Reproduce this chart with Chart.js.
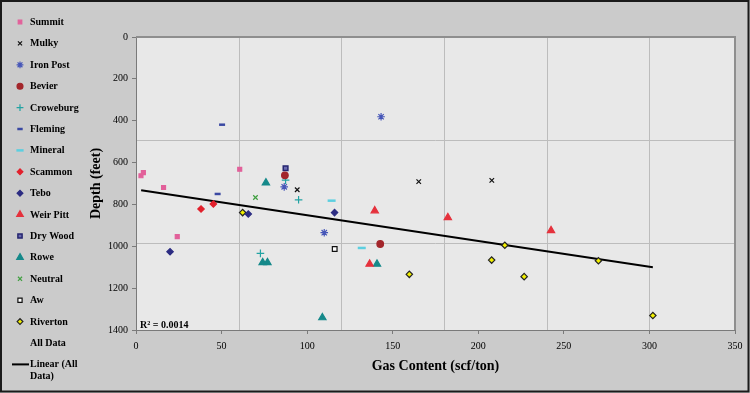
<!DOCTYPE html>
<html>
<head>
<meta charset="utf-8">
<script src="https://cdn.jsdelivr.net/npm/chart.js@4/dist/chart.umd.min.js"></script>
<style>
  html, body { margin: 0; padding: 0; background: #cbcbcb; }
  #wrap { width: 750px; height: 393px; }
</style>
</head>
<body>
<div id="wrap"><canvas id="gasChart" width="750" height="393"></canvas></div>
<script>
// ── Data (x = gas content scf/ton, y = depth feet) ──
const summitX    = [2.9, 4.3, 16.1, 60.6, 24.1];
const summitY    = [663, 648, 719, 632, 954];
const mulkyX     = [94.2, 165.2, 207.9];
const mulkyY     = [730, 691, 685];
const ironPostX  = [143.2, 86.6, 110];
const ironPostY  = [381, 716, 935];
const bevierX    = [87, 142.7];
const bevierY    = [661, 989];
const crowebX    = [87.4, 95, 72.7];
const crowebY    = [684, 778, 1034];
const flemingX   = [50.3, 47.7];
const flemingY   = [419, 750];
const mineralX   = [114.3, 131.9];
const mineralY   = [782, 1008];
const scammonX   = [38, 45.2];
const scammonY   = [822, 798];
const teboX      = [65.6, 116, 19.9];
const teboY      = [846, 839, 1026];
const weirPittX  = [139.5, 182.2, 242.5, 136.5];
const weirPittY  = [830, 863, 925, 1085];
const dryWoodX   = [87.4];
const dryWoodY   = [627];
const roweX      = [75.9, 74, 76.8, 140.8, 108.9];
const roweY      = [697, 1078, 1078, 1085, 1341];
const neutralX   = [69.8];
const neutralY   = [767];
const awX        = [116.1];
const awY        = [1013];
const rivertonX  = [62.3, 159.7, 215.5, 207.8, 226.8, 270.2, 302];
const rivertonY  = [839, 1134, 995, 1066, 1145, 1069, 1331];

// trendline end points as drawn
const trendX = [3, 302];
const trendY = [732, 1100];

const xTicks = { min: 0, max: 350, step: 50 };
const yTicks = { min: 0, max: 1400, step: 200 };
const rSquared = 'R² = 0.0014';

// background texture grid (not on tick values)
const gridX = [60, 120, 180, 240, 300];
const gridY = [492, 984];

const pts = (xs, ys) => xs.map((x, i) => ({ x, y: ys[i] }));

const series = [
    { label: 'Summit',    data: pts(summitX, summitY),     style: 'rect',     r: 2.8, fill: '#e2609a', stroke: '#e2609a' },
    { label: 'Mulky',     data: pts(mulkyX, mulkyY),       style: 'crossRot', r: 3.2, fill: '#111',    stroke: '#111' },
    { label: 'Iron Post', data: pts(ironPostX, ironPostY), style: 'star',     r: 3.8, fill: '#4656b8', stroke: '#4656b8' },
    { label: 'Bevier',    data: pts(bevierX, bevierY),     style: 'circle',   r: 3.3, fill: '#a3262b', stroke: '#a3262b' },
    { label: 'Croweburg', data: pts(crowebX, crowebY),     style: 'cross',    r: 3.8, fill: '#22a3a3', stroke: '#22a3a3' },
    { label: 'Fleming',   data: pts(flemingX, flemingY),   style: 'line',     r: 3,   fill: '#3a48a2', stroke: '#3a48a2', bw: 2.5 },
    { label: 'Mineral',   data: pts(mineralX, mineralY),   style: 'line',     r: 4,   fill: '#5ccfe0', stroke: '#5ccfe0', bw: 2.5 },
    { label: 'Scammon',   data: pts(scammonX, scammonY),   style: 'rectRot',  r: 3.2, fill: '#e2202c', stroke: '#e2202c' },
    { label: 'Tebo',      data: pts(teboX, teboY),         style: 'rectRot',  r: 3.2, fill: '#2c2c82', stroke: '#2c2c82' },
    { label: 'Weir Pitt', data: pts(weirPittX, weirPittY), style: 'triangle', r: 4.2, fill: '#e5313c', stroke: '#e5313c' },
    { label: 'Dry Wood',  data: pts(dryWoodX, dryWoodY),   style: 'rect',     r: 3.3, fill: '#6a6ab0', stroke: '#262670', bw: 1.5 },
    { label: 'Rowe',      data: pts(roweX, roweY),         style: 'triangle', r: 4.2, fill: '#15898a', stroke: '#15898a' },
    { label: 'Neutral',   data: pts(neutralX, neutralY),   style: 'crossRot', r: 3.2, fill: '#3f9f3f', stroke: '#3f9f3f' },
    { label: 'Aw',        data: pts(awX, awY),             style: 'rect',     r: 3.3, fill: '#ffffff', stroke: '#111' },
    { label: 'Riverton',  data: pts(rivertonX, rivertonY), style: 'rectRot',  r: 3.2, fill: '#f2f000', stroke: '#222' }
];

const datasets = series.map(s => ({
    label: s.label,
    data: s.data,
    pointStyle: s.style,
    pointRadius: s.r,
    pointBackgroundColor: s.fill,
    pointBorderColor: s.stroke,
    pointBorderWidth: s.bw || 1.2,
    showLine: false
}));

// invisible "All Data" series (Excel keeps it for the trendline)
datasets.push({
    label: 'All Data',
    data: series.flatMap(s => s.data),
    pointRadius: 0,
    showLine: false
});

datasets.push({
    label: 'Linear (All Data)',
    data: pts(trendX, trendY),
    showLine: true,
    borderColor: '#000',
    borderWidth: 2,
    pointRadius: 0,
    fill: false
});

const serif = "'Liberation Serif', 'Times New Roman', serif";

// ── Plot background, grid, frame, R² and legend ─────────────────────
const decorPlugin = {
    id: 'decor',
    beforeDraw(chart) {
        const { ctx, chartArea: a, scales } = chart;
        ctx.save();
        ctx.fillStyle = '#cbcbcb';
        ctx.fillRect(0, 0, chart.width, chart.height);
        ctx.fillStyle = '#e8e8e8';
        ctx.fillRect(a.left, a.top, a.right - a.left, a.bottom - a.top);
        ctx.strokeStyle = '#bcbcbc';
        ctx.lineWidth = 1;
        gridX.forEach(v => {
            const px = Math.round(scales.x.getPixelForValue(v)) + 0.5;
            ctx.beginPath(); ctx.moveTo(px, a.top); ctx.lineTo(px, a.bottom); ctx.stroke();
        });
        gridY.forEach(v => {
            const py = Math.round(scales.y.getPixelForValue(v)) + 0.5;
            ctx.beginPath(); ctx.moveTo(a.left, py); ctx.lineTo(a.right, py); ctx.stroke();
        });
        ctx.restore();
    },
    afterDraw(chart) {
        const { ctx, chartArea: a } = chart;
        ctx.save();
        // plot area edge
        ctx.strokeStyle = '#8e8e8e';
        ctx.lineWidth = 2;
        ctx.beginPath();
        ctx.moveTo(a.left, a.top); ctx.lineTo(a.right, a.top); ctx.lineTo(a.right, a.bottom);
        ctx.stroke();

        // R² label
        ctx.fillStyle = '#000';
        ctx.font = 'bold 10px ' + serif;
        ctx.textBaseline = 'alphabetic';
        ctx.textAlign = 'left';
        ctx.fillText(rSquared, a.left + 4, a.bottom - 2);

        // legend
        const x0 = 20, tx = 30, y0 = 22, dy = 21.4;
        ctx.font = 'bold 10px ' + serif;
        ctx.textBaseline = 'middle';
        chart.data.datasets.forEach((ds, i) => {
            const y = y0 + i * dy;
            if (ds.showLine) {
                ctx.strokeStyle = '#000';
                ctx.lineWidth = 2;
                ctx.beginPath(); ctx.moveTo(12, y); ctx.lineTo(29, y); ctx.stroke();
                ctx.fillStyle = '#000';
                ctx.fillText('Linear (All', tx, y);
                ctx.fillText('Data)', tx, y + 12);
                return;
            }
            if (ds.pointRadius > 0 && Chart.helpers && Chart.helpers.drawPoint) {
                ctx.fillStyle = ds.pointBackgroundColor;
                ctx.strokeStyle = ds.pointBorderColor;
                ctx.lineWidth = ds.pointBorderWidth;
                Chart.helpers.drawPoint(ctx, {
                    pointStyle: ds.pointStyle, radius: ds.pointRadius * 0.9,
                    rotation: 0, borderWidth: ds.pointBorderWidth
                }, x0, y);
            }
            ctx.fillStyle = '#000';
            ctx.fillText(ds.label, tx, y + 0.5);
        });

        // outer frame
        ctx.strokeStyle = '#1a1a1a';
        ctx.lineWidth = 2;
        ctx.strokeRect(1, 1, chart.width - 2.5, chart.height - 2.5);
        ctx.restore();
    }
};

new Chart(document.getElementById('gasChart'), {
    type: 'scatter',
    data: { datasets },
    options: {
        responsive: false,
        animation: false,
        devicePixelRatio: 1,
        layout: { padding: { left: 82, right: 15, top: 37, bottom: 8 } },
        plugins: {
            legend: { display: false },
            tooltip: { enabled: false }
        },
        scales: {
            x: {
                type: 'linear',
                min: xTicks.min, max: xTicks.max,
                ticks: { stepSize: xTicks.step, color: '#000', padding: 6, font: { family: serif, size: 10 },
                         callback: v => String(v) },
                grid: { drawOnChartArea: false, drawTicks: true, tickLength: 4, color: '#7a7a7a' },
                border: { color: '#7a7a7a', width: 1 },
                title: { display: true, text: 'Gas Content (scf/ton)', color: '#000',
                         font: { family: serif, size: 14, weight: 'bold' }, padding: { top: 0, bottom: 10 } },
                afterFit: s => { s.height = 55; }
            },
            y: {
                type: 'linear',
                reverse: true,
                min: yTicks.min, max: yTicks.max,
                ticks: { stepSize: yTicks.step, color: '#000', padding: 4, font: { family: serif, size: 10 },
                         callback: v => String(v) },
                grid: { drawOnChartArea: false, drawTicks: true, tickLength: 4, color: '#7a7a7a' },
                border: { color: '#7a7a7a', width: 1 },
                title: { display: true, text: 'Depth (feet)', color: '#000',
                         font: { family: serif, size: 14, weight: 'bold' }, padding: { top: 6, bottom: 0 } },
                afterFit: s => { s.width = 54; }
            }
        }
    },
    plugins: [decorPlugin]
});
</script>
</body>
</html>
